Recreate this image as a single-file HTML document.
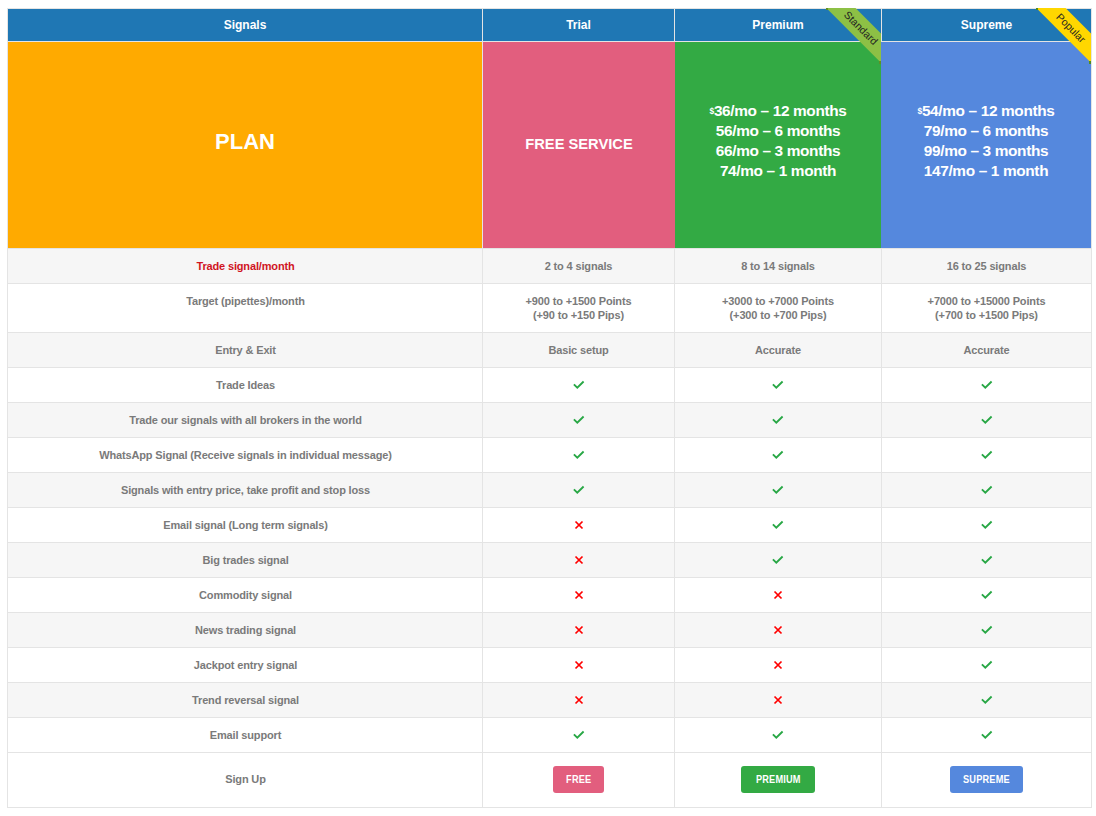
<!DOCTYPE html>
<html><head><meta charset="utf-8"><title>Signals Plans</title>
<style>
*{margin:0;padding:0;box-sizing:border-box}
html,body{width:1096px;height:816px;background:#fff;overflow:hidden}
body{position:relative;font-family:"Liberation Sans",sans-serif;font-weight:bold}
.a{position:absolute}
.t{position:absolute;text-align:center;white-space:nowrap}
.hd{color:#fff;font-size:12px;line-height:32px;top:9px;height:32px}
.lb{color:#7a7a7a;font-size:11px;letter-spacing:-0.15px}
.pr{color:#fff;font-size:15.4px;letter-spacing:-0.35px;line-height:20px;height:20px}
.btn{position:absolute;top:766px;height:27px;border-radius:3px;color:#fff;font-size:10px;line-height:27px;text-align:center;letter-spacing:0.2px}
.btn span{display:inline-block;transform:scaleX(0.92)}
svg{position:absolute;overflow:visible}
</style></head><body>

<div class="a" style="left:7px;top:8px;width:1085px;height:800px;background:#e4e4e4"></div>
<div class="a" style="left:8px;top:9px;width:474px;height:32px;background:#1f77b4"></div>
<div class="a" style="left:483px;top:9px;width:191px;height:32px;background:#1f77b4"></div>
<div class="a" style="left:675px;top:9px;width:206px;height:32px;background:#1f77b4"></div>
<div class="a" style="left:882px;top:9px;width:209px;height:32px;background:#1f77b4"></div>
<div class="a" style="left:8px;top:42px;width:474px;height:206px;background:#ffaa00"></div>
<div class="a" style="left:483px;top:42px;width:192px;height:206px;background:#e25e7e"></div>
<div class="a" style="left:675px;top:42px;width:206px;height:206px;background:#33aa44"></div>
<div class="a" style="left:881px;top:42px;width:210px;height:206px;background:#5588dd"></div>
<div class="a" style="left:8px;top:249px;width:474px;height:34px;background:#f6f6f6"></div>
<div class="a" style="left:483px;top:249px;width:191px;height:34px;background:#f6f6f6"></div>
<div class="a" style="left:675px;top:249px;width:206px;height:34px;background:#f6f6f6"></div>
<div class="a" style="left:882px;top:249px;width:209px;height:34px;background:#f6f6f6"></div>
<div class="a" style="left:8px;top:284px;width:474px;height:48px;background:#fff"></div>
<div class="a" style="left:483px;top:284px;width:191px;height:48px;background:#fff"></div>
<div class="a" style="left:675px;top:284px;width:206px;height:48px;background:#fff"></div>
<div class="a" style="left:882px;top:284px;width:209px;height:48px;background:#fff"></div>
<div class="a" style="left:8px;top:333px;width:474px;height:34px;background:#f6f6f6"></div>
<div class="a" style="left:483px;top:333px;width:191px;height:34px;background:#f6f6f6"></div>
<div class="a" style="left:675px;top:333px;width:206px;height:34px;background:#f6f6f6"></div>
<div class="a" style="left:882px;top:333px;width:209px;height:34px;background:#f6f6f6"></div>
<div class="a" style="left:8px;top:368px;width:474px;height:34px;background:#fff"></div>
<div class="a" style="left:483px;top:368px;width:191px;height:34px;background:#fff"></div>
<div class="a" style="left:675px;top:368px;width:206px;height:34px;background:#fff"></div>
<div class="a" style="left:882px;top:368px;width:209px;height:34px;background:#fff"></div>
<div class="a" style="left:8px;top:403px;width:474px;height:34px;background:#f6f6f6"></div>
<div class="a" style="left:483px;top:403px;width:191px;height:34px;background:#f6f6f6"></div>
<div class="a" style="left:675px;top:403px;width:206px;height:34px;background:#f6f6f6"></div>
<div class="a" style="left:882px;top:403px;width:209px;height:34px;background:#f6f6f6"></div>
<div class="a" style="left:8px;top:438px;width:474px;height:34px;background:#fff"></div>
<div class="a" style="left:483px;top:438px;width:191px;height:34px;background:#fff"></div>
<div class="a" style="left:675px;top:438px;width:206px;height:34px;background:#fff"></div>
<div class="a" style="left:882px;top:438px;width:209px;height:34px;background:#fff"></div>
<div class="a" style="left:8px;top:473px;width:474px;height:34px;background:#f6f6f6"></div>
<div class="a" style="left:483px;top:473px;width:191px;height:34px;background:#f6f6f6"></div>
<div class="a" style="left:675px;top:473px;width:206px;height:34px;background:#f6f6f6"></div>
<div class="a" style="left:882px;top:473px;width:209px;height:34px;background:#f6f6f6"></div>
<div class="a" style="left:8px;top:508px;width:474px;height:34px;background:#fff"></div>
<div class="a" style="left:483px;top:508px;width:191px;height:34px;background:#fff"></div>
<div class="a" style="left:675px;top:508px;width:206px;height:34px;background:#fff"></div>
<div class="a" style="left:882px;top:508px;width:209px;height:34px;background:#fff"></div>
<div class="a" style="left:8px;top:543px;width:474px;height:34px;background:#f6f6f6"></div>
<div class="a" style="left:483px;top:543px;width:191px;height:34px;background:#f6f6f6"></div>
<div class="a" style="left:675px;top:543px;width:206px;height:34px;background:#f6f6f6"></div>
<div class="a" style="left:882px;top:543px;width:209px;height:34px;background:#f6f6f6"></div>
<div class="a" style="left:8px;top:578px;width:474px;height:34px;background:#fff"></div>
<div class="a" style="left:483px;top:578px;width:191px;height:34px;background:#fff"></div>
<div class="a" style="left:675px;top:578px;width:206px;height:34px;background:#fff"></div>
<div class="a" style="left:882px;top:578px;width:209px;height:34px;background:#fff"></div>
<div class="a" style="left:8px;top:613px;width:474px;height:34px;background:#f6f6f6"></div>
<div class="a" style="left:483px;top:613px;width:191px;height:34px;background:#f6f6f6"></div>
<div class="a" style="left:675px;top:613px;width:206px;height:34px;background:#f6f6f6"></div>
<div class="a" style="left:882px;top:613px;width:209px;height:34px;background:#f6f6f6"></div>
<div class="a" style="left:8px;top:648px;width:474px;height:34px;background:#fff"></div>
<div class="a" style="left:483px;top:648px;width:191px;height:34px;background:#fff"></div>
<div class="a" style="left:675px;top:648px;width:206px;height:34px;background:#fff"></div>
<div class="a" style="left:882px;top:648px;width:209px;height:34px;background:#fff"></div>
<div class="a" style="left:8px;top:683px;width:474px;height:34px;background:#f6f6f6"></div>
<div class="a" style="left:483px;top:683px;width:191px;height:34px;background:#f6f6f6"></div>
<div class="a" style="left:675px;top:683px;width:206px;height:34px;background:#f6f6f6"></div>
<div class="a" style="left:882px;top:683px;width:209px;height:34px;background:#f6f6f6"></div>
<div class="a" style="left:8px;top:718px;width:474px;height:34px;background:#fff"></div>
<div class="a" style="left:483px;top:718px;width:191px;height:34px;background:#fff"></div>
<div class="a" style="left:675px;top:718px;width:206px;height:34px;background:#fff"></div>
<div class="a" style="left:882px;top:718px;width:209px;height:34px;background:#fff"></div>
<div class="a" style="left:8px;top:753px;width:474px;height:54px;background:#fff"></div>
<div class="a" style="left:483px;top:753px;width:191px;height:54px;background:#fff"></div>
<div class="a" style="left:675px;top:753px;width:206px;height:54px;background:#fff"></div>
<div class="a" style="left:882px;top:753px;width:209px;height:54px;background:#fff"></div>
<div class="t hd" style="left:8px;width:474px">Signals</div>
<div class="t hd" style="left:483px;width:191px">Trial</div>
<div class="t hd" style="left:675px;width:206px">Premium</div>
<div class="t hd" style="left:882px;width:209px">Supreme</div>
<svg class="a" style="left:0;top:0" width="1096" height="816" viewBox="0 0 1096 816"><polygon points="826.3,8 855.5,8 881,33.5 881,62.7" fill="#8dc045"/><rect x="826" y="8" width="2" height="2" fill="#5f8f25"/><rect x="879" y="61" width="2" height="3" fill="#5f8f25"/><text x="861.25" y="27.75" transform="rotate(45 861.25 27.75)" text-anchor="middle" dominant-baseline="central" font-family="Liberation Sans" font-size="10.5" font-weight="normal" fill="#222">Standard</text></svg>
<svg class="a" style="left:0;top:0" width="1096" height="816" viewBox="0 0 1096 816"><polygon points="1036.3,8 1065.5,8 1091,33.5 1091,62.7" fill="#ffd700"/><rect x="1036" y="8" width="2" height="2" fill="#4d8c22"/><rect x="1089" y="61" width="2" height="3" fill="#4d8c22"/><text x="1071.25" y="27.75" transform="rotate(45 1071.25 27.75)" text-anchor="middle" dominant-baseline="central" font-family="Liberation Sans" font-size="10.5" font-weight="normal" fill="#222">Popular</text></svg>
<div class="t" style="left:8px;width:474px;top:131px;font-size:22px;line-height:22px;color:#fff">PLAN</div>
<div class="t" style="left:483px;width:192px;top:133.5px;font-size:14.7px;line-height:20px;color:#fff">FREE SERVICE</div>
<div class="t pr" style="left:675px;width:206px;top:100.6px"><span style="font-size:8.5px;vertical-align:2.4px">$</span>36/mo – 12 months</div>
<div class="t pr" style="left:881px;width:210px;top:100.6px"><span style="font-size:8.5px;vertical-align:2.4px">$</span>54/mo – 12 months</div>
<div class="t pr" style="left:675px;width:206px;top:120.6px">56/mo – 6 months</div>
<div class="t pr" style="left:881px;width:210px;top:120.6px">79/mo – 6 months</div>
<div class="t pr" style="left:675px;width:206px;top:140.6px">66/mo – 3 months</div>
<div class="t pr" style="left:881px;width:210px;top:140.6px">99/mo – 3 months</div>
<div class="t pr" style="left:675px;width:206px;top:160.6px">74/mo – 1 month</div>
<div class="t pr" style="left:881px;width:210px;top:160.6px">147/mo – 1 month</div>
<div class="t lb" style="left:8.5px;width:474px;top:249px;line-height:34px;color:#d0141f">Trade signal/month</div>
<div class="t lb" style="left:483px;width:191px;top:249px;line-height:34px">2 to 4 signals</div>
<div class="t lb" style="left:675px;width:206px;top:249px;line-height:34px">8 to 14 signals</div>
<div class="t lb" style="left:882px;width:209px;top:249px;line-height:34px">16 to 25 signals</div>
<div class="t lb" style="left:8.5px;width:474px;top:294.2px;line-height:14px;color:#7a7a7a">Target (pipettes)/month</div>
<div class="t lb" style="left:483px;width:191px;top:294.2px;line-height:14px">+900 to +1500 Points<br>(+90 to +150 Pips)</div>
<div class="t lb" style="left:675px;width:206px;top:294.2px;line-height:14px">+3000 to +7000 Points<br>(+300 to +700 Pips)</div>
<div class="t lb" style="left:882px;width:209px;top:294.2px;line-height:14px">+7000 to +15000 Points<br>(+700 to +1500 Pips)</div>
<div class="t lb" style="left:8.5px;width:474px;top:333px;line-height:34px;color:#7a7a7a">Entry &amp; Exit</div>
<div class="t lb" style="left:483px;width:191px;top:333px;line-height:34px">Basic setup</div>
<div class="t lb" style="left:675px;width:206px;top:333px;line-height:34px">Accurate</div>
<div class="t lb" style="left:882px;width:209px;top:333px;line-height:34px">Accurate</div>
<div class="t lb" style="left:8.5px;width:474px;top:368px;line-height:34px;color:#7a7a7a">Trade Ideas</div>
<svg style="left:572.5px;top:380.0px" width="12" height="10" viewBox="0 0 12 10"><polyline points="0.9,4.3 4.3,7.7 10.6,1.5" fill="none" stroke="#28a745" stroke-width="1.85" stroke-linecap="butt" stroke-linejoin="miter"/></svg>
<svg style="left:772.0px;top:380.0px" width="12" height="10" viewBox="0 0 12 10"><polyline points="0.9,4.3 4.3,7.7 10.6,1.5" fill="none" stroke="#28a745" stroke-width="1.85" stroke-linecap="butt" stroke-linejoin="miter"/></svg>
<svg style="left:980.5px;top:380.0px" width="12" height="10" viewBox="0 0 12 10"><polyline points="0.9,4.3 4.3,7.7 10.6,1.5" fill="none" stroke="#28a745" stroke-width="1.85" stroke-linecap="butt" stroke-linejoin="miter"/></svg>
<div class="t lb" style="left:8.5px;width:474px;top:403px;line-height:34px;color:#7a7a7a">Trade our signals with all brokers in the world</div>
<svg style="left:572.5px;top:415.0px" width="12" height="10" viewBox="0 0 12 10"><polyline points="0.9,4.3 4.3,7.7 10.6,1.5" fill="none" stroke="#28a745" stroke-width="1.85" stroke-linecap="butt" stroke-linejoin="miter"/></svg>
<svg style="left:772.0px;top:415.0px" width="12" height="10" viewBox="0 0 12 10"><polyline points="0.9,4.3 4.3,7.7 10.6,1.5" fill="none" stroke="#28a745" stroke-width="1.85" stroke-linecap="butt" stroke-linejoin="miter"/></svg>
<svg style="left:980.5px;top:415.0px" width="12" height="10" viewBox="0 0 12 10"><polyline points="0.9,4.3 4.3,7.7 10.6,1.5" fill="none" stroke="#28a745" stroke-width="1.85" stroke-linecap="butt" stroke-linejoin="miter"/></svg>
<div class="t lb" style="left:8.5px;width:474px;top:438px;line-height:34px;color:#7a7a7a">WhatsApp Signal (Receive signals in individual message)</div>
<svg style="left:572.5px;top:450.0px" width="12" height="10" viewBox="0 0 12 10"><polyline points="0.9,4.3 4.3,7.7 10.6,1.5" fill="none" stroke="#28a745" stroke-width="1.85" stroke-linecap="butt" stroke-linejoin="miter"/></svg>
<svg style="left:772.0px;top:450.0px" width="12" height="10" viewBox="0 0 12 10"><polyline points="0.9,4.3 4.3,7.7 10.6,1.5" fill="none" stroke="#28a745" stroke-width="1.85" stroke-linecap="butt" stroke-linejoin="miter"/></svg>
<svg style="left:980.5px;top:450.0px" width="12" height="10" viewBox="0 0 12 10"><polyline points="0.9,4.3 4.3,7.7 10.6,1.5" fill="none" stroke="#28a745" stroke-width="1.85" stroke-linecap="butt" stroke-linejoin="miter"/></svg>
<div class="t lb" style="left:8.5px;width:474px;top:473px;line-height:34px;color:#7a7a7a">Signals with entry price, take profit and stop loss</div>
<svg style="left:572.5px;top:485.0px" width="12" height="10" viewBox="0 0 12 10"><polyline points="0.9,4.3 4.3,7.7 10.6,1.5" fill="none" stroke="#28a745" stroke-width="1.85" stroke-linecap="butt" stroke-linejoin="miter"/></svg>
<svg style="left:772.0px;top:485.0px" width="12" height="10" viewBox="0 0 12 10"><polyline points="0.9,4.3 4.3,7.7 10.6,1.5" fill="none" stroke="#28a745" stroke-width="1.85" stroke-linecap="butt" stroke-linejoin="miter"/></svg>
<svg style="left:980.5px;top:485.0px" width="12" height="10" viewBox="0 0 12 10"><polyline points="0.9,4.3 4.3,7.7 10.6,1.5" fill="none" stroke="#28a745" stroke-width="1.85" stroke-linecap="butt" stroke-linejoin="miter"/></svg>
<div class="t lb" style="left:8.5px;width:474px;top:508px;line-height:34px;color:#7a7a7a">Email signal (Long term signals)</div>
<svg style="left:573.5px;top:520.0px" width="10" height="10" viewBox="0 0 10 10"><path d="M1.5,1.5 L8.5,8.5 M8.5,1.5 L1.5,8.5" fill="none" stroke="#ff0000" stroke-width="1.75"/></svg>
<svg style="left:772.0px;top:520.0px" width="12" height="10" viewBox="0 0 12 10"><polyline points="0.9,4.3 4.3,7.7 10.6,1.5" fill="none" stroke="#28a745" stroke-width="1.85" stroke-linecap="butt" stroke-linejoin="miter"/></svg>
<svg style="left:980.5px;top:520.0px" width="12" height="10" viewBox="0 0 12 10"><polyline points="0.9,4.3 4.3,7.7 10.6,1.5" fill="none" stroke="#28a745" stroke-width="1.85" stroke-linecap="butt" stroke-linejoin="miter"/></svg>
<div class="t lb" style="left:8.5px;width:474px;top:543px;line-height:34px;color:#7a7a7a">Big trades signal</div>
<svg style="left:573.5px;top:555.0px" width="10" height="10" viewBox="0 0 10 10"><path d="M1.5,1.5 L8.5,8.5 M8.5,1.5 L1.5,8.5" fill="none" stroke="#ff0000" stroke-width="1.75"/></svg>
<svg style="left:772.0px;top:555.0px" width="12" height="10" viewBox="0 0 12 10"><polyline points="0.9,4.3 4.3,7.7 10.6,1.5" fill="none" stroke="#28a745" stroke-width="1.85" stroke-linecap="butt" stroke-linejoin="miter"/></svg>
<svg style="left:980.5px;top:555.0px" width="12" height="10" viewBox="0 0 12 10"><polyline points="0.9,4.3 4.3,7.7 10.6,1.5" fill="none" stroke="#28a745" stroke-width="1.85" stroke-linecap="butt" stroke-linejoin="miter"/></svg>
<div class="t lb" style="left:8.5px;width:474px;top:578px;line-height:34px;color:#7a7a7a">Commodity signal</div>
<svg style="left:573.5px;top:590.0px" width="10" height="10" viewBox="0 0 10 10"><path d="M1.5,1.5 L8.5,8.5 M8.5,1.5 L1.5,8.5" fill="none" stroke="#ff0000" stroke-width="1.75"/></svg>
<svg style="left:773.0px;top:590.0px" width="10" height="10" viewBox="0 0 10 10"><path d="M1.5,1.5 L8.5,8.5 M8.5,1.5 L1.5,8.5" fill="none" stroke="#ff0000" stroke-width="1.75"/></svg>
<svg style="left:980.5px;top:590.0px" width="12" height="10" viewBox="0 0 12 10"><polyline points="0.9,4.3 4.3,7.7 10.6,1.5" fill="none" stroke="#28a745" stroke-width="1.85" stroke-linecap="butt" stroke-linejoin="miter"/></svg>
<div class="t lb" style="left:8.5px;width:474px;top:613px;line-height:34px;color:#7a7a7a">News trading signal</div>
<svg style="left:573.5px;top:625.0px" width="10" height="10" viewBox="0 0 10 10"><path d="M1.5,1.5 L8.5,8.5 M8.5,1.5 L1.5,8.5" fill="none" stroke="#ff0000" stroke-width="1.75"/></svg>
<svg style="left:773.0px;top:625.0px" width="10" height="10" viewBox="0 0 10 10"><path d="M1.5,1.5 L8.5,8.5 M8.5,1.5 L1.5,8.5" fill="none" stroke="#ff0000" stroke-width="1.75"/></svg>
<svg style="left:980.5px;top:625.0px" width="12" height="10" viewBox="0 0 12 10"><polyline points="0.9,4.3 4.3,7.7 10.6,1.5" fill="none" stroke="#28a745" stroke-width="1.85" stroke-linecap="butt" stroke-linejoin="miter"/></svg>
<div class="t lb" style="left:8.5px;width:474px;top:648px;line-height:34px;color:#7a7a7a">Jackpot entry signal</div>
<svg style="left:573.5px;top:660.0px" width="10" height="10" viewBox="0 0 10 10"><path d="M1.5,1.5 L8.5,8.5 M8.5,1.5 L1.5,8.5" fill="none" stroke="#ff0000" stroke-width="1.75"/></svg>
<svg style="left:773.0px;top:660.0px" width="10" height="10" viewBox="0 0 10 10"><path d="M1.5,1.5 L8.5,8.5 M8.5,1.5 L1.5,8.5" fill="none" stroke="#ff0000" stroke-width="1.75"/></svg>
<svg style="left:980.5px;top:660.0px" width="12" height="10" viewBox="0 0 12 10"><polyline points="0.9,4.3 4.3,7.7 10.6,1.5" fill="none" stroke="#28a745" stroke-width="1.85" stroke-linecap="butt" stroke-linejoin="miter"/></svg>
<div class="t lb" style="left:8.5px;width:474px;top:683px;line-height:34px;color:#7a7a7a">Trend reversal signal</div>
<svg style="left:573.5px;top:695.0px" width="10" height="10" viewBox="0 0 10 10"><path d="M1.5,1.5 L8.5,8.5 M8.5,1.5 L1.5,8.5" fill="none" stroke="#ff0000" stroke-width="1.75"/></svg>
<svg style="left:773.0px;top:695.0px" width="10" height="10" viewBox="0 0 10 10"><path d="M1.5,1.5 L8.5,8.5 M8.5,1.5 L1.5,8.5" fill="none" stroke="#ff0000" stroke-width="1.75"/></svg>
<svg style="left:980.5px;top:695.0px" width="12" height="10" viewBox="0 0 12 10"><polyline points="0.9,4.3 4.3,7.7 10.6,1.5" fill="none" stroke="#28a745" stroke-width="1.85" stroke-linecap="butt" stroke-linejoin="miter"/></svg>
<div class="t lb" style="left:8.5px;width:474px;top:718px;line-height:34px;color:#7a7a7a">Email support</div>
<svg style="left:572.5px;top:730.0px" width="12" height="10" viewBox="0 0 12 10"><polyline points="0.9,4.3 4.3,7.7 10.6,1.5" fill="none" stroke="#28a745" stroke-width="1.85" stroke-linecap="butt" stroke-linejoin="miter"/></svg>
<svg style="left:772.0px;top:730.0px" width="12" height="10" viewBox="0 0 12 10"><polyline points="0.9,4.3 4.3,7.7 10.6,1.5" fill="none" stroke="#28a745" stroke-width="1.85" stroke-linecap="butt" stroke-linejoin="miter"/></svg>
<svg style="left:980.5px;top:730.0px" width="12" height="10" viewBox="0 0 12 10"><polyline points="0.9,4.3 4.3,7.7 10.6,1.5" fill="none" stroke="#28a745" stroke-width="1.85" stroke-linecap="butt" stroke-linejoin="miter"/></svg>
<div class="t lb" style="left:8.5px;width:474px;top:752px;line-height:54px;color:#7a7a7a">Sign Up</div>
<div class="btn" style="left:553px;width:51px;background:#e25e7e"><span>FREE</span></div>
<div class="btn" style="left:741px;width:74px;background:#33aa44"><span>PREMIUM</span></div>
<div class="btn" style="left:950px;width:73px;background:#5588dd"><span>SUPREME</span></div>
</body></html>
